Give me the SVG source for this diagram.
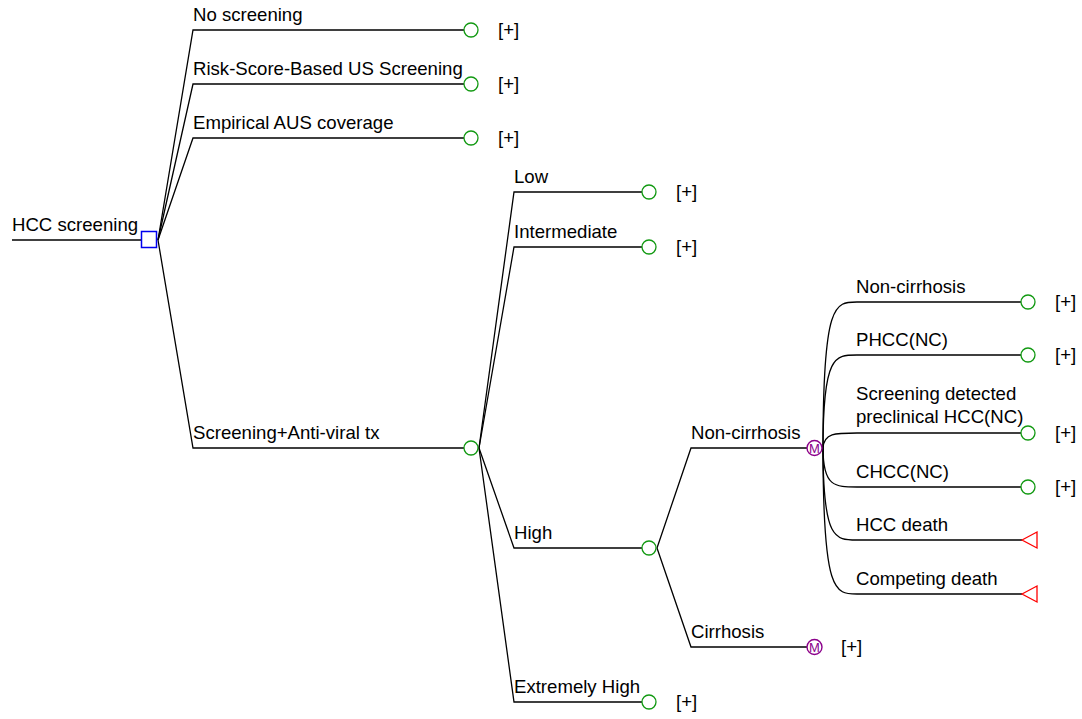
<svg xmlns="http://www.w3.org/2000/svg" width="1082" height="719" viewBox="0 0 1082 719">
<defs>
<style>
text{font-family:"Liberation Sans",Arial,sans-serif;font-size:18.6px;fill:#000}
.ln{fill:none;stroke:#000;stroke-width:1.3}
.ch{fill:#fff;stroke:#119911;stroke-width:1.3}
.dc{fill:#fff;stroke:#0000ee;stroke-width:1.5}
.mk{fill:#fff;stroke:#8b008b;stroke-width:1.4}
.mt{font-size:13px;fill:#8b008b;text-anchor:middle}
.tm{fill:#fff;stroke:#ff0000;stroke-width:1.3}
</style>
</defs>
<rect width="1082" height="719" fill="#fff"/>
<g id="connectors" class="ln">
<path d="M12 240H141"/>
<path d="M158 240L193 30H464"/>
<path d="M158 240L193 84H464"/>
<path d="M158 240L193 138H464"/>
<path d="M158 240L193 448H464"/>
<path d="M479 448L514 192H642"/>
<path d="M479 448L514 247H642"/>
<path d="M479 448L514 548H642"/>
<path d="M479 448L514 702H642"/>
<path d="M657 548L691 448H807"/>
<path d="M657 548L691 647H807"/>
<path d="M823 448C823 302 835 302 857 302H1021"/>
<path d="M823 448C823 355 835 355 857 355H1021"/>
<path d="M823 448C824 433 835 433 857 433H1021"/>
<path d="M823 448C823 487 835 487 857 487H1021"/>
<path d="M823 448C823 540 835 540 857 540H1022"/>
<path d="M823 448C823 594 835 594 857 594H1022"/>
</g>
<g id="root"><rect class="dc" x="141.5" y="231.5" width="15" height="16"/><text x="12" y="231">HCC screening</text></g>
<g id="no-screening"><circle class="ch" cx="471" cy="30" r="7"/><text x="193" y="21">No screening</text><text x="498" y="36">[+]</text></g>
<g id="risk-score"><circle class="ch" cx="471" cy="84" r="7"/><text x="193" y="75">Risk-Score-Based US Screening</text><text x="498" y="90">[+]</text></g>
<g id="empirical"><circle class="ch" cx="471" cy="138" r="7"/><text x="193" y="129">Empirical AUS coverage</text><text x="498" y="144">[+]</text></g>
<g id="screening-antiviral"><circle class="ch" cx="471" cy="448" r="7"/><text x="193" y="439">Screening+Anti-viral tx</text></g>
<g id="low"><circle class="ch" cx="649" cy="192" r="7"/><text x="514" y="183">Low</text><text x="676" y="198">[+]</text></g>
<g id="intermediate"><circle class="ch" cx="649" cy="247" r="7"/><text x="514" y="238">Intermediate</text><text x="676" y="253">[+]</text></g>
<g id="high"><circle class="ch" cx="649" cy="548" r="7"/><text x="514" y="539">High</text></g>
<g id="extremely-high"><circle class="ch" cx="649" cy="702" r="7"/><text x="514" y="693">Extremely High</text><text x="676" y="708">[+]</text></g>
<g id="non-cirrhosis-markov"><circle class="mk" cx="814.5" cy="448" r="7.5"/><text class="mt" x="814.5" y="452.5">M</text><text x="691" y="439">Non-cirrhosis</text></g>
<g id="cirrhosis-markov"><circle class="mk" cx="814.5" cy="647" r="7.5"/><text class="mt" x="814.5" y="651.5">M</text><text x="691" y="638">Cirrhosis</text><text x="841" y="653">[+]</text></g>
<g id="nc-non-cirrhosis"><circle class="ch" cx="1028" cy="302" r="7"/><text x="856" y="293">Non-cirrhosis</text><text x="1055" y="308">[+]</text></g>
<g id="phcc-nc"><circle class="ch" cx="1028" cy="355" r="7"/><text x="856" y="346">PHCC(NC)</text><text x="1055" y="361">[+]</text></g>
<g id="screening-detected"><circle class="ch" cx="1028" cy="433" r="7"/><text x="856" y="400">Screening detected</text><text x="856" y="423">preclinical HCC(NC)</text><text x="1055" y="439">[+]</text></g>
<g id="chcc-nc"><circle class="ch" cx="1028" cy="487" r="7"/><text x="856" y="478">CHCC(NC)</text><text x="1055" y="493">[+]</text></g>
<g id="hcc-death"><polygon class="tm" points="1022,540 1037,532 1037,548"/><text x="856" y="531">HCC death</text></g>
<g id="competing-death"><polygon class="tm" points="1022,594 1037,586 1037,602"/><text x="856" y="585">Competing death</text></g>
</svg>
